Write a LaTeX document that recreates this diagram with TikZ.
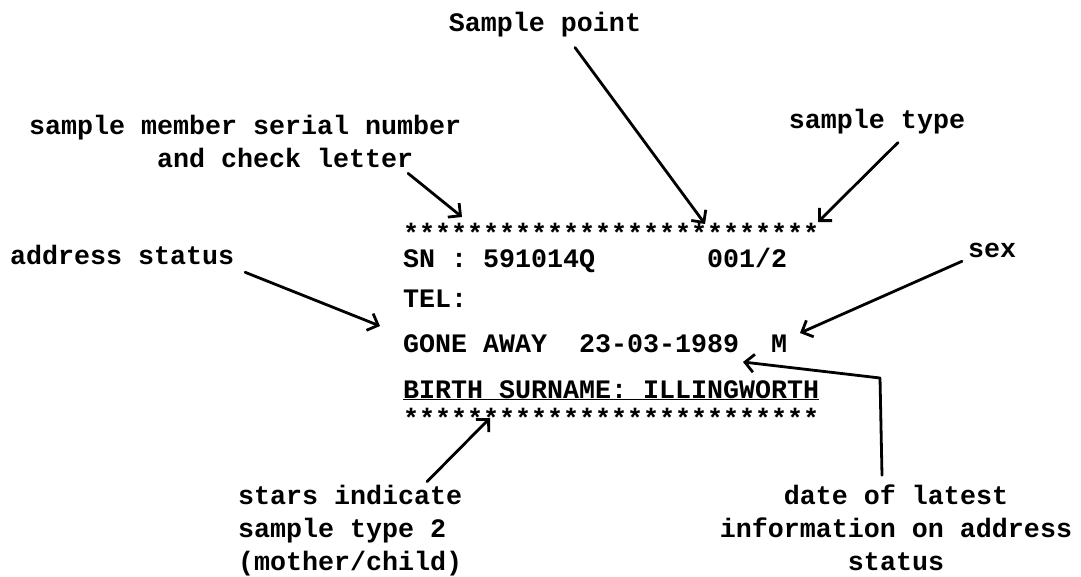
\documentclass[tikz,border=0pt]{standalone}
\usepackage{fontspec}
\setmonofont{Liberation Mono}
\usetikzlibrary{arrows.meta,calc}
\begin{document}
\begin{tikzpicture}[x=1pt,y=-1pt,
  txt/.style={font=\ttfamily\bfseries\fontsize{26.67}{33}\selectfont, inner sep=0pt, outer sep=0pt},
  arr/.style={line width=2.8pt, line cap=round, line join=round,
    -{Straight Barb[length=9pt,width=18pt,line width=2.8pt]}},
]
\fill[white] (0,0) rectangle (1081,577);
\useasboundingbox (0,0) rectangle (1081,577);

% labels
\node[txt, anchor=base] (sp) at (545,32) {Sample point};
\node[txt, anchor=base west] (smsn) at (29,135)
  {\vtop{\hbox{sample member serial number}\hbox{\phantom{12345678}and check letter}}};
\node[txt, anchor=base] (st) at (877,129) {sample type};
\node[txt, anchor=base west] (as) at (10,265) {address status};
\node[txt, anchor=base west] (sex) at (968,258) {sex};
\node[txt, anchor=base west] (si) at (238,504)
  {\vtop{\hbox{stars indicate}\hbox{sample type 2}\hbox{(mother/child)}}};
\node[txt, anchor=base] (dl) at (896,504)
  {\vtop{\halign{\hfil#\hfil\cr date of latest\cr information on address\cr status\cr}}};

% record
\node[txt, anchor=base west] (topstars) at (403,243) {**************************};
\node[txt, anchor=base west] (sn) at (403,268) {SN : 591014Q\phantom{0000000}001/2};
\node[txt, anchor=base west] (tel) at (403,307) {TEL:};
\node[txt, anchor=base west] (gone) at (403,352) {GONE AWAY\phantom{00}23-03-1989\phantom{00}M};
\node[txt, anchor=base west] (birth) at (403,398) {\underline{BIRTH SURNAME: ILLINGWORTH}};
\node[txt, anchor=base west] (botstars) at (403,427) {**************************};

% arrow tips
\coordinate (tSP) at (705,224);
\coordinate (tSM) at (462,217);
\coordinate (tST) at (818,222);
\coordinate (tAS) at (380,326);
\coordinate (tSX) at (800,333);
\coordinate (bend) at (880,378);
\coordinate (tDT) at (743,362);
\coordinate (tSI) at (490,418);

% connectors
\draw[arr] ($(sp.south)+(30,10)$) -- (tSP);
\draw[arr] ($(smsn.south west)+(379,5)$) -- (tSM);
\draw[arr] ($(st.south)+(21,8)$) -- (tST);
\draw[arr] ($(as.south east)+(11,7)$) -- (tAS);
\draw[arr] ($(sex.south west)+(-6,3)$) -- (tSX);
\draw[arr] ($(dl.north)+(-14,-9)$) -- (bend) -- (tDT);
\draw[arr] ($(si.north west)+(189,-3)$) -- (tSI);
\end{tikzpicture}
\end{document}
